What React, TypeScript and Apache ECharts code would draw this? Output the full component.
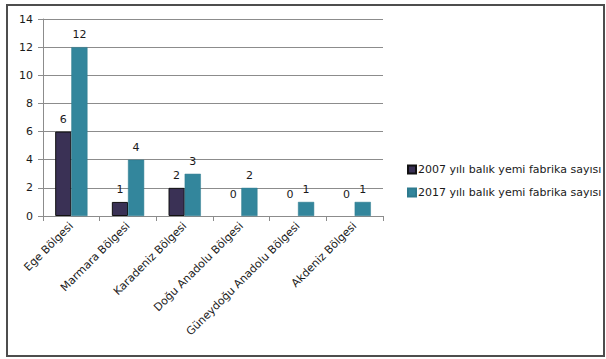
import React, { useEffect, useRef } from "react";
import * as echarts from "echarts";

const categories = [
  "Ege Bölgesi",
  "Marmara Bölgesi",
  "Karadeniz Bölgesi",
  "Doğu Anadolu Bölgesi",
  "Güneydoğu Anadolu Bölgesi",
  "Akdeniz Bölgesi",
];
const series2007 = [6, 1, 2, 0, 0, 0];
const series2017 = [12, 4, 3, 2, 1, 1];
const seriesNames = [
  "2007 yılı balık yemi fabrika sayısı",
  "2017 yılı balık yemi fabrika sayısı",
];
const yTicks = [0, 2, 4, 6, 8, 10, 12, 14];

const FONT = "DejaVu Sans";

export default function App() {
  const ref = useRef<HTMLDivElement>(null);
  useEffect(() => {
    document.body.style.margin = "0";
    const chart = echarts.init(ref.current!, null, { renderer: "svg" });
    const labelBase = {
      show: true,
      position: "top",
      distance: 7,
      color: "#1a1a1a",
      fontFamily: FONT,
      fontSize: 11,
    };
    const toData = (arr: number[]) =>
      arr.map((v) =>
        v === 0
          ? { value: v, itemStyle: { borderWidth: 0 }, label: { offset: [0, -9] } }
          : v
      );
    chart.setOption({
      animation: false,
      backgroundColor: "#ffffff",
      textStyle: { fontFamily: FONT },
      graphic: [
        {
          type: "rect",
          shape: { x: 7, y: 5, width: 597, height: 351 },
          style: { fill: "none", stroke: "#4d4d4d", lineWidth: 2 },
          silent: true,
        },
      ],
      grid: { left: 43, top: 19, right: 223, bottom: 143, containLabel: false },
      legend: {
        orient: "vertical",
        left: 402,
        top: 159,
        itemWidth: 8,
        itemHeight: 8,
        itemGap: 12,
        icon: "rect",
        textStyle: { fontFamily: FONT, fontSize: 11, color: "#1a1a1a", padding: [0, 0, 0, -3] },
        data: seriesNames,
      },
      xAxis: {
        type: "category",
        data: categories,
        axisLine: { lineStyle: { color: "#8c8c8c" } },
        axisTick: { show: true, length: 5, alignWithLabel: false, lineStyle: { color: "#8c8c8c" } },
        axisLabel: {
          interval: 0,
          rotate: 45,
          margin: 8,
          color: "#1a1a1a",
          fontFamily: FONT,
          fontSize: 11,
        },
      },
      yAxis: {
        type: "value",
        min: 0,
        max: 14,
        interval: 2,
        axisLine: { show: true, lineStyle: { color: "#8c8c8c" } },
        axisTick: { show: true, length: 5, lineStyle: { color: "#8c8c8c" } },
        axisLabel: {
          color: "#1a1a1a",
          fontFamily: FONT,
          fontSize: 11,
          margin: 10,
          customValues: yTicks,
        },
        splitLine: { lineStyle: { color: "#8c8c8c" } },
      },
      series: [
        {
          name: seriesNames[0],
          type: "bar",
          data: toData(series2007),
          barGap: "0%",
          barCategoryGap: "43%",
          itemStyle: { color: "#3a3155", borderColor: "#111111", borderWidth: 1 },
          label: labelBase,
        },
        {
          name: seriesNames[1],
          type: "bar",
          data: toData(series2017),
          barGap: "0%",
          barCategoryGap: "43%",
          itemStyle: { color: "#33869c", borderColor: "#2e7a8e", borderWidth: 0.5 },
          label: labelBase,
        },
      ],
    });
    return () => chart.dispose();
  }, []);
  return (
    <div
      ref={ref}
      style={{ position: "fixed", left: 0, top: 0, width: 606, height: 359 }}
    />
  );
}
